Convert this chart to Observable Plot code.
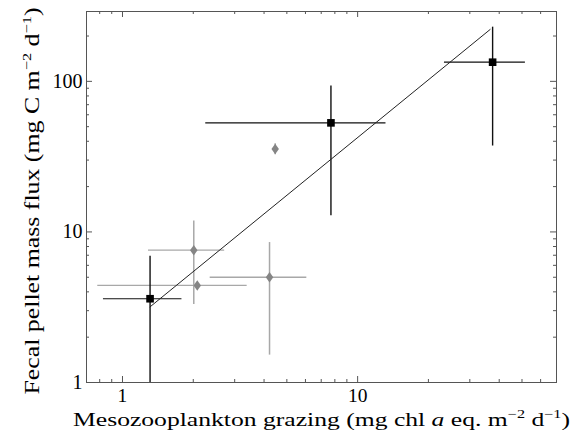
<!DOCTYPE html>
<html>
<head>
<meta charset="utf-8">
<script src="https://cdn.jsdelivr.net/npm/d3@7"></script>
<script src="https://cdn.jsdelivr.net/npm/@observablehq/plot@0.6"></script>
<style>
  html, body { margin: 0; padding: 0; background: #fff; }
  #chart svg { display: block; }
</style>
</head>
<body>
<div id="chart"></div>
<script>
// ---- Data ----
// Black squares
const sqX    = [1.31, 7.7, 37.5];
const sqY    = [3.6, 53, 134];
const sqXlo  = [0.83, 2.26, 23.4];
const sqXhi  = [1.79, 13.2, 51.7];
const sqYlo  = [1, 12.8, 37.2];
const sqYhi  = [6.9, 93, 229];

// Gray diamonds
const dmX    = [2.01, 2.08, 4.22, 4.46];
const dmY    = [7.56, 4.41, 5.0, 35.5];
const dmXlo  = [1.29, 0.785, 2.36, null];
const dmXhi  = [2.72, 3.39, 6.08, null];
const dmYlo  = [3.3, null, 1.52, 32.5];
const dmYhi  = [11.8, null, 8.5, 38.5];

// Regression line end points
const fitX = [1.31, 36.6];
const fitY = [3.18, 221];

// Axis ticks
const xMajor = [1, 10];
const xMinor = [0.8, 0.9, 2, 3, 4, 5, 6, 7, 8, 9, 20, 30, 40, 50, 60];
const yMajor = [1, 10, 100];
const yMinor = [2, 3, 4, 5, 6, 7, 8, 9, 20, 30, 40, 50, 60, 70, 80, 90, 200];

const xDomain = [0.703, 70.1];
const yDomain = [1, 291];

// ---- Tables built from arrays ----
const squares = sqX.map((x, i) => ({x, y: sqY[i], xlo: sqXlo[i], xhi: sqXhi[i], ylo: sqYlo[i], yhi: sqYhi[i]}));
const diamonds = dmX.map((x, i) => ({x, y: dmY[i], xlo: dmXlo[i], xhi: dmXhi[i], ylo: dmYlo[i], yhi: dmYhi[i]}));
const fit = fitX.map((x, i) => ({x, y: fitY[i]}));

const W = 574, H = 435;
const mL = 86, mR = 18, mT = 11, mB = 53;
const innerW = W - mL - mR, innerH = H - mT - mB;
const majLen = 6, minLen = 3;
const axisColor = "#555";

const diamondSymbol = {
  draw(context, size) {
    const r = Math.sqrt(size / Math.PI);
    const w = r * 0.72;
    context.moveTo(0, -r);
    context.lineTo(w, 0);
    context.lineTo(0, r);
    context.lineTo(-w, 0);
    context.closePath();
  }
};

const black = "#111";
const grayBar = "#a8a8a8";
const grayFill = "#858585";
const fam = "'Liberation Serif', 'Times New Roman', serif";

const chart = Plot.plot({
  width: W,
  height: H,
  marginLeft: mL,
  marginRight: mR,
  marginTop: mT,
  marginBottom: mB,
  style: {fontFamily: fam, background: "#fff", color: "#000"},
  x: {type: "log", domain: xDomain, label: null},
  y: {type: "log", domain: yDomain, label: null},
  marks: [
    Plot.frame({stroke: axisColor, strokeWidth: 1}),
    // inward ticks, bottom & top
    Plot.tickX(xMajor, {x: d => d, insetTop: innerH - majLen, stroke: axisColor}),
    Plot.tickX(xMinor, {x: d => d, insetTop: innerH - minLen, stroke: axisColor}),
    Plot.tickX(xMajor, {x: d => d, insetBottom: innerH - majLen, stroke: axisColor}),
    Plot.tickX(xMinor, {x: d => d, insetBottom: innerH - minLen, stroke: axisColor}),
    // inward ticks, left & right
    Plot.tickY(yMajor, {y: d => d, insetRight: innerW - majLen, stroke: axisColor}),
    Plot.tickY(yMinor, {y: d => d, insetRight: innerW - minLen, stroke: axisColor}),
    Plot.tickY(yMajor, {y: d => d, insetLeft: innerW - majLen, stroke: axisColor}),
    Plot.tickY(yMinor, {y: d => d, insetLeft: innerW - minLen, stroke: axisColor}),
    Plot.axisX({ticks: xMajor, tickSize: 0, tickPadding: 6, tickFormat: d => String(d), fontSize: 19.5, label: null}),
    Plot.axisY({ticks: yMajor, tickSize: 0, tickPadding: 4, tickFormat: d => String(d), fontSize: 20, label: null}),
    // gray error bars
    Plot.ruleY(diamonds.filter(d => d.xlo != null), {y: "y", x1: "xlo", x2: "xhi", stroke: grayBar, strokeWidth: 1.3}),
    Plot.ruleX(diamonds.filter(d => d.ylo != null), {x: "x", y1: "ylo", y2: "yhi", stroke: grayBar, strokeWidth: 1.5}),
    // black error bars
    Plot.ruleY(squares, {y: "y", x1: "xlo", x2: "xhi", stroke: black, strokeWidth: 1.2}),
    Plot.ruleX(squares, {x: "x", y1: "ylo", y2: "yhi", stroke: black, strokeWidth: 1.4}),
    // regression line
    Plot.line(fit, {x: "x", y: "y", stroke: "#222", strokeWidth: 1}),
    // markers
    Plot.dot(diamonds, {x: "x", y: "y", symbol: diamondSymbol, r: 5.2, fill: grayFill, stroke: "none"}),
    Plot.dot(squares, {x: "x", y: "y", symbol: "square", r: 4.3, fill: "#000", stroke: "none"})
  ]
});

document.getElementById("chart").appendChild(chart);

// Axis titles with italic and superscript parts
const svg = d3.select(chart);

function addLabel(parts, attrs, size) {
  const t = svg.append("text")
    .attr("font-family", fam)
    .attr("font-size", size)
    .attr("fill", "#000")
    .attr("text-anchor", "middle");
  for (const [k, v] of Object.entries(attrs)) t.attr(k, v);
  let raised = false;
  for (const p of parts) {
    const s = t.append("tspan").text(p.text);
    if (p.italic) s.attr("font-style", "italic");
    if (p.sup) { s.attr("font-size", Math.round(size * 0.65)).attr("dy", -8); raised = true; }
    else if (raised) { s.attr("dy", 8); raised = false; }
  }
  return t;
}

addLabel([
  {text: "Mesozooplankton grazing (mg chl "},
  {text: "a", italic: true},
  {text: " eq. m"},
  {text: "\u22122", sup: true},
  {text: " d"},
  {text: "\u22121", sup: true},
  {text: ")"}
], {x: 321.5, y: 426, textLength: 497, lengthAdjust: "spacingAndGlyphs"}, 19);

addLabel([
  {text: "Fecal pellet mass flux (mg C m"},
  {text: "\u22122", sup: true},
  {text: " d"},
  {text: "\u22121", sup: true},
  {text: ")"}
], {transform: "translate(39,201) rotate(-90)", x: 0, y: 0, textLength: 387, lengthAdjust: "spacingAndGlyphs"}, 20.5);
</script>
</body>
</html>
